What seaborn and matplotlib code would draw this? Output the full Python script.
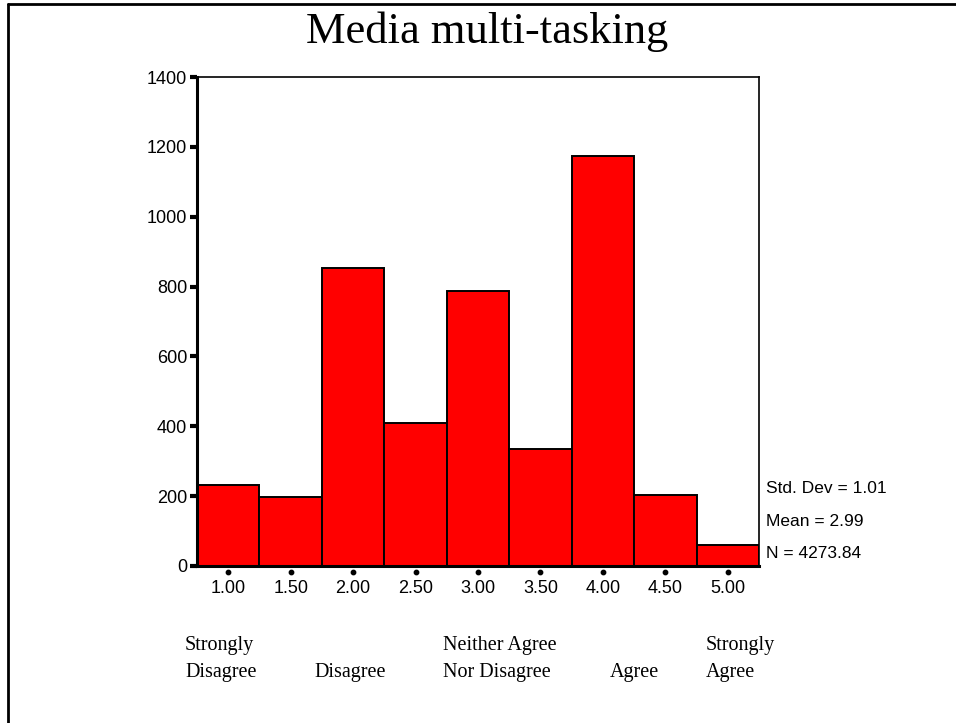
import numpy as np
import matplotlib
matplotlib.use('Agg')
import matplotlib.pyplot as plt
import matplotlib.transforms as mtransforms
from matplotlib.lines import Line2D
import seaborn as sns

sns.set_style('white')
plt.rcParams['font.family'] = ['Liberation Sans', 'DejaVu Sans']
plt.rcParams['text.color'] = 'black'
plt.rcParams['xtick.color'] = 'black'
plt.rcParams['ytick.color'] = 'black'
plt.rcParams['axes.labelcolor'] = 'black'

# histogram bins (scale value) and weighted counts
scores = [1.0, 1.5, 2.0, 2.5, 3.0, 3.5, 4.0, 4.5, 5.0]
counts = [233, 197, 853, 410, 787, 334, 1174, 202, 59]
tick_labels = ['1.00', '1.50', '2.00', '2.50', '3.00', '3.50', '4.00', '4.50', '5.00']
y_ticks = [0, 200, 400, 600, 800, 1000, 1200, 1400]

stats_text = ['Std. Dev = 1.01', 'Mean = 2.99', 'N = 4273.84']
anchor_labels = ['Strongly\nDisagree', 'Disagree', 'Neither Agree\nNor Disagree', 'Agree', 'Strongly\nAgree']
anchor_x = [185, 314, 443, 610, 706]  # left edge of each label, pixels

fig = plt.figure(figsize=(9.56, 7.23), dpi=100)
ax = fig.add_axes([197 / 956, 1 - 566 / 723, (759 - 197) / 956, (566 - 77) / 723])

sns.histplot(x=scores, weights=counts, bins=9, binrange=(0.75, 5.25),
             color='#ff0000', edgecolor='black', linewidth=1.4, alpha=1, ax=ax)

ax.set_xlim(0.75, 5.25)
ax.set_ylim(0, 1400)
ax.set_yticks(y_ticks)
ax.set_yticklabels([str(v) for v in y_ticks], fontsize=13)
ax.set_xticks(scores)
ax.set_xticklabels(tick_labels, fontsize=13)
ax.set_xlabel('')
ax.set_ylabel('')
ax.tick_params(axis='y', direction='out', length=5, width=3, color='black', pad=2, left=True)
ax.tick_params(axis='x', length=0, pad=10)

for side in ['left', 'bottom']:
    ax.spines[side].set_linewidth(2.2)
    ax.spines[side].set_color('black')
for side in ['top', 'right']:
    ax.spines[side].set_linewidth(1.2)
    ax.spines[side].set_color('black')
    ax.spines[side].set_visible(True)

# SPSS style dots below the x axis at each tick
dot_trans = ax.get_xaxis_transform() + mtransforms.ScaledTranslation(0, -5.5 / 100, fig.dpi_scale_trans)
ax.scatter(scores, [0] * len(scores), s=10, color='black', transform=dot_trans, clip_on=False, zorder=5)

# title
fig.text(0.51, 1 - 43 / 723, 'Media multi-tasking', family='Liberation Serif',
         fontsize=32, ha='center', va='baseline')

# summary statistics
for i, s in enumerate(stats_text):
    fig.text(766 / 956, 1 - (493 + 32.5 * i) / 723, s, fontsize=12.5, ha='left', va='baseline')

# anchor labels
for lab, xp in zip(anchor_labels, anchor_x):
    lines = lab.split('\n')
    if len(lines) == 1:
        lines = ['', lines[0]]
    fig.text(xp / 956, 1 - 650 / 723, lines[0], family='Liberation Serif', fontsize=14.5, ha='left', va='baseline')
    fig.text(xp / 956, 1 - 677 / 723, lines[1], family='Liberation Serif', fontsize=14.5, ha='left', va='baseline')

# page frame (left and top edges only)
fig.add_artist(Line2D([7.5 / 956, 7.5 / 956], [0, 1 - 3.5 / 723], color='black', linewidth=2, transform=fig.transFigure))
fig.add_artist(Line2D([7.5 / 956, 1], [1 - 3.5 / 723, 1 - 3.5 / 723], color='black', linewidth=2, transform=fig.transFigure))

fig.savefig('out.png', dpi=100)
